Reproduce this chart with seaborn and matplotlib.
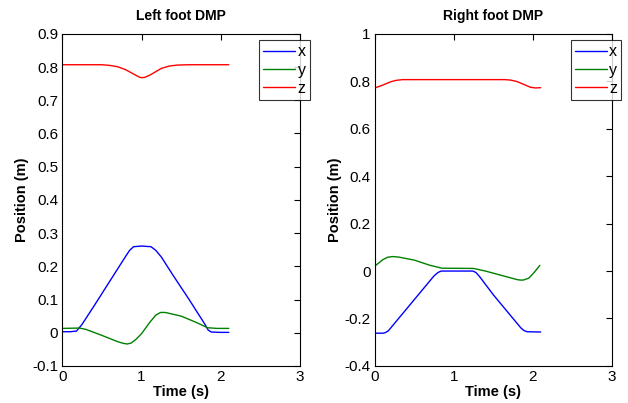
import pandas as pd
import seaborn as sns
import matplotlib.pyplot as plt

# left foot trajectory (time, x, y, z)
left_x_t = [0, 0.1, 0.18, 0.25, 0.4, 0.6, 0.8, 0.85, 0.9, 1.0, 1.12, 1.18, 1.25, 1.4, 1.6, 1.8, 1.84, 1.88, 2.0, 2.1]
left_x = [0.003, 0.003, 0.005, 0.025, 0.08, 0.155, 0.23, 0.248, 0.259, 0.261, 0.259, 0.248, 0.228, 0.172, 0.1, 0.025, 0.008, 0.002, 0.001, 0.001]
left_y_t = [0, 0.22, 0.3, 0.5, 0.7, 0.77, 0.82, 0.87, 0.93, 1.0, 1.1, 1.18, 1.24, 1.3, 1.5, 1.7, 1.83, 1.95, 2.1]
left_y = [0.013, 0.014, 0.01, -0.008, -0.027, -0.032, -0.034, -0.031, -0.02, -0.003, 0.03, 0.053, 0.061, 0.061, 0.05, 0.03, 0.015, 0.013, 0.013]
left_z_t = [0, 0.5, 0.6, 0.7, 0.8, 0.9, 0.97, 1.0, 1.04, 1.1, 1.15, 1.25, 1.35, 1.45, 1.6, 2.1]
left_z = [0.807, 0.807, 0.805, 0.801, 0.792, 0.779, 0.77, 0.768, 0.769, 0.775, 0.782, 0.796, 0.803, 0.806, 0.807, 0.807]

# right foot trajectory
right_x_t = [0, 0.1, 0.13, 0.17, 0.25, 0.4, 0.6, 0.75, 0.8, 0.84, 1.24, 1.28, 1.33, 1.5, 1.7, 1.85, 1.89, 1.93, 2.1]
right_x = [-0.262, -0.262, -0.26, -0.252, -0.22, -0.16, -0.08, -0.02, -0.006, 0, 0, -0.006, -0.025, -0.1, -0.18, -0.24, -0.251, -0.256, -0.257]
right_y_t = [0, 0.1, 0.16, 0.22, 0.3, 0.5, 0.7, 0.85, 1.25, 1.4, 1.6, 1.8, 1.84, 1.88, 1.95, 2.02, 2.09]
right_y = [0.021, 0.048, 0.058, 0.061, 0.059, 0.046, 0.024, 0.012, 0.011, 0.0, -0.018, -0.036, -0.038, -0.038, -0.03, -0.005, 0.024]
right_z_t = [0, 0.1, 0.2, 0.27, 0.35, 0.5, 1.65, 1.72, 1.8, 1.9, 1.97, 2.03, 2.1]
right_z = [0.772, 0.784, 0.798, 0.804, 0.807, 0.807, 0.807, 0.805, 0.799, 0.785, 0.775, 0.772, 0.773]

titles = ['Left foot DMP', 'Right foot DMP']
colors = {'x': '#0000ff', 'y': '#008000', 'z': '#ff0000'}


def make_df(xt, x, yt, y, zt, z):
    parts = []
    for name, t, v in [('x', xt, x), ('y', yt, y), ('z', zt, z)]:
        parts.append(pd.DataFrame({'Time': t, 'Position': v, 'axis': name}))
    return pd.concat(parts, ignore_index=True)


left = make_df(left_x_t, left_x, left_y_t, left_y, left_z_t, left_z)
right = make_df(right_x_t, right_x, right_y_t, right_y, right_z_t, right_z)

sns.set_style('white')
plt.rcParams['font.family'] = ['Liberation Sans', 'DejaVu Sans']
for k in ['text.color', 'axes.labelcolor', 'xtick.color', 'ytick.color']:
    plt.rcParams[k] = 'black'

fig = plt.figure(figsize=(6.28, 4.03), dpi=100)
ax1 = fig.add_axes([0.099, 0.092, 0.379, 0.824])
ax2 = fig.add_axes([0.597, 0.092, 0.377, 0.824])

for ax, df, title, ylim, yticks in [
    (ax1, left, titles[0], (-0.1, 0.9), [-0.1, 0, 0.1, 0.2, 0.3, 0.4, 0.5, 0.6, 0.7, 0.8, 0.9]),
    (ax2, right, titles[1], (-0.4, 1.0), [-0.4, -0.2, 0, 0.2, 0.4, 0.6, 0.8, 1]),
]:
    sns.lineplot(data=df, x='Time', y='Position', hue='axis', palette=colors,
                 linewidth=1.0, ax=ax, sort=False)
    ax.set_xlim(0, 3)
    ax.set_ylim(*ylim)
    ax.set_xticks([0, 1, 2, 3])
    ax.set_yticks(yticks)
    ax.set_yticklabels(['%g' % v for v in yticks])
    ax.tick_params(direction='in', length=4, top=True, right=True,
                   labelsize=11, width=0.8, color='black', pad=3)
    for s in ax.spines.values():
        s.set_color('black')
        s.set_linewidth(0.8)
    ax.set_title(title, fontsize=10, fontweight='bold', pad=10)
    ax.set_xlabel('Time (s)', fontsize=10.5, fontweight='bold', labelpad=1)
    ax.set_ylabel('Position (m)', fontsize=10.5, fontweight='bold', labelpad=2)
    leg = ax.legend(loc='upper right', bbox_to_anchor=(1.04, 0.98), fontsize=11.5,
                    frameon=True, fancybox=False, handlelength=2.0,
                    borderpad=0.25, labelspacing=0.2, handletextpad=0.15,
                    borderaxespad=0)
    leg.get_frame().set_edgecolor('black')
    leg.get_frame().set_linewidth(0.8)
    leg.set_title(None)

fig.savefig('out.png', dpi=100)
